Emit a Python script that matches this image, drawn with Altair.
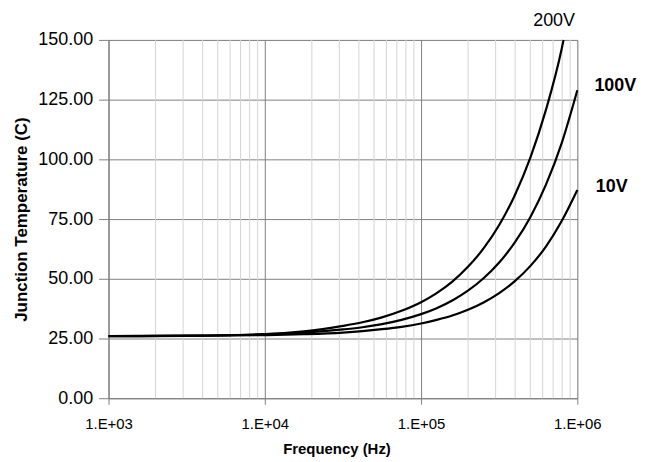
import altair as alt
import pandas as pd

# ---- data (frequencies roughly log-spaced) ----
freq = [1000, 3162, 10000, 17783, 31623, 42170, 56234, 74989, 100000, 125893,
        158489, 199526, 251189, 316228, 398107, 501187, 630957, 794328, 1000000]
t_10v = [26.0, 26.1, 26.4, 26.8, 27.5, 28.1, 28.9, 29.9, 31.3, 32.8,
         34.6, 37.0, 40.1, 44.0, 49.0, 55.4, 63.6, 74.2, 87.2]
t_100v = [26.0, 26.15, 26.8, 27.5, 28.8, 29.7, 31.0, 32.8, 35.2, 37.7,
          40.9, 45.0, 50.2, 56.8, 65.2, 75.9, 89.5, 106.8, 128.9]
freq_200v = [1000, 3162, 10000, 17783, 31623, 42170, 56234, 74989, 100000, 125893,
             158489, 199526, 251189, 316228, 398107, 501187, 630957, 794328, 816000]
t_200v = [26.05, 26.2, 26.8, 28.0, 30.3, 31.8, 33.85, 36.6, 40.2, 44.0,
          48.8, 55.0, 62.7, 72.5, 85.0, 100.8, 120.9, 146.3, 150.0]

minor_freq = [2000, 3000, 4000, 5000, 6000, 7000, 8000, 9000,
              20000, 30000, 40000, 50000, 60000, 70000, 80000, 90000,
              200000, 300000, 400000, 500000, 600000, 700000, 800000, 900000]

label_text = ["200V", "100V", "10V"]
label_freq = [710000, 1750000, 1660000]
label_temp = [157.7, 130.8, 88.3]
label_weight = ["normal", "bold", "bold"]

x_ticks = [1000, 10000, 100000, 1000000]
y_ticks = [0, 25, 50, 75, 100, 125, 150]

# ---- tables ----
rows = []
for f, t in zip(freq, t_10v):
    rows.append({"freq": f, "temp": t, "series": "10V"})
for f, t in zip(freq, t_100v):
    rows.append({"freq": f, "temp": t, "series": "100V"})
for f, t in zip(freq_200v, t_200v):
    rows.append({"freq": f, "temp": t, "series": "200V"})
curves = pd.DataFrame(rows)
minor = pd.DataFrame({"freq": minor_freq})
labels = pd.DataFrame({"freq": label_freq, "temp": label_temp,
                       "text": label_text, "weight": label_weight})

FONT = "Liberation Sans"
GRID = "#808080"

xscale = alt.Scale(type="log", domain=[1000, 1000000])
yscale = alt.Scale(domain=[0, 150])

xaxis = alt.Axis(values=x_ticks, labelExpr="'1.E+0' + round(log(datum.value)/LN10)",
                 grid=True, gridColor=GRID, gridWidth=1, tickColor=GRID, tickSize=6,
                 domainColor=GRID, labelFont=FONT, labelFontSize=15, labelColor="black",
                 labelPadding=12, labelFlush=False, title="Frequency (Hz)",
                 titleFont=FONT, titleFontSize=15, titleFontWeight="bold",
                 titleColor="black", titleX=229, titleY=51, titleBaseline="middle")
yaxis = alt.Axis(values=y_ticks, format=".2f", grid=True, gridColor=GRID, gridWidth=1,
                 tickColor=GRID, tickSize=10, domainColor=GRID, labelFont=FONT,
                 labelFontSize=18, labelColor="black", labelPadding=6,
                 title="Junction Temperature (C)", titleFont=FONT, titleFontSize=17,
                 titleFontWeight="bold", titleColor="black", titleX=-87, titleY=180,
                 titleAngle=270, titleBaseline="middle", titleAlign="center")

minor_layer = alt.Chart(minor).mark_rule(color="#d4d4d4", strokeWidth=1).encode(
    x=alt.X("freq:Q", scale=xscale, axis=xaxis)
)

lines = alt.Chart(curves).mark_line(color="black", strokeWidth=2.2,
                                    interpolate="monotone").encode(
    x=alt.X("freq:Q", scale=xscale, axis=xaxis),
    y=alt.Y("temp:Q", scale=yscale, axis=yaxis),
    detail="series:N",
)

txt_normal = alt.Chart(labels).transform_filter(
    alt.datum.weight == "normal").mark_text(
    font=FONT, fontSize=18, color="black", align="center", baseline="middle").encode(
    x=alt.X("freq:Q", scale=xscale), y=alt.Y("temp:Q", scale=yscale), text="text:N")

txt_bold = alt.Chart(labels).transform_filter(
    alt.datum.weight == "bold").mark_text(
    font=FONT, fontSize=18, fontWeight="bold", color="black", align="center",
    baseline="middle").encode(
    x=alt.X("freq:Q", scale=xscale), y=alt.Y("temp:Q", scale=yscale), text="text:N")

chart = alt.layer(minor_layer, lines, txt_normal, txt_bold).properties(
    width=471, height=360,
    autosize=alt.AutoSizeParams(type="none"),
    padding={"left": 101, "top": 31, "right": 70, "bottom": 60},
).configure_view(stroke=GRID, strokeWidth=1).configure(background="white")

chart.save("out.html", embed_options={"renderer": "svg", "actions": False})
